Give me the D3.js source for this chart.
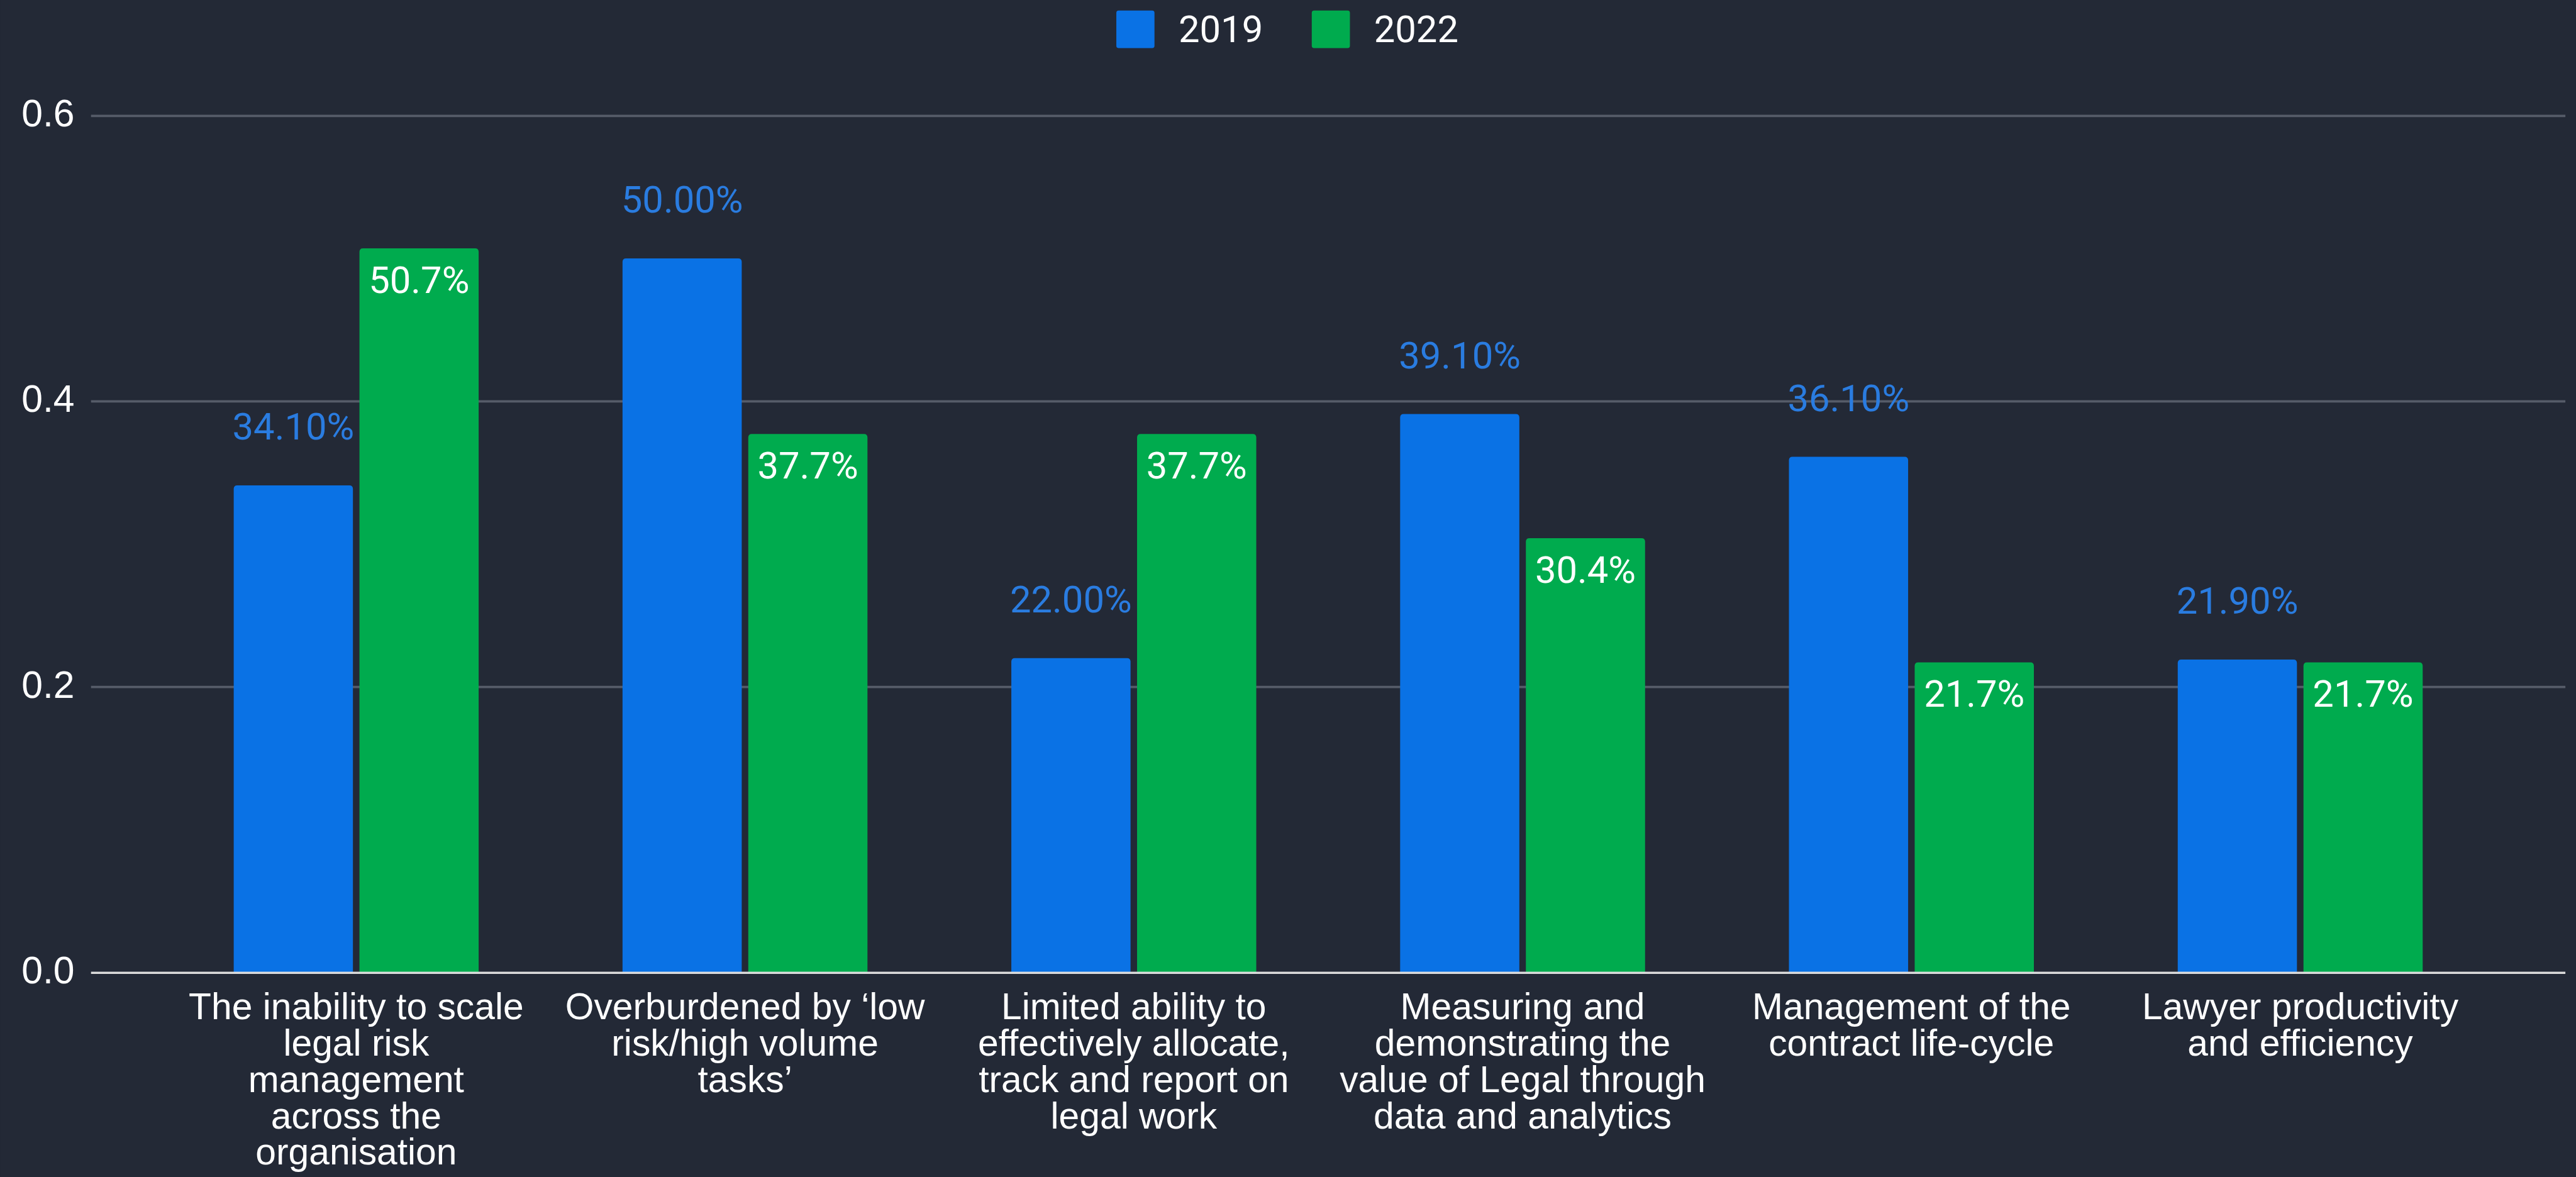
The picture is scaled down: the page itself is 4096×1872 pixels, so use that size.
<!DOCTYPE html>
<html>
<head>
<meta charset="utf-8">
<script src="https://cdn.jsdelivr.net/npm/d3@7/dist/d3.min.js"></script>
<style>
  html, body { margin: 0; padding: 0; background: #232936; overflow: hidden; }
  svg { display: block; }
</style>
</head>
<body>
<svg id="chart" width="4096" height="1872" viewBox="0 0 4389 2006" preserveAspectRatio="xMidYMid meet"></svg>
<script>
// Category labels, one entry per wrapped line
const categories = [
  ["The inability to scale", "legal risk", "management", "across the", "organisation"],
  ["Overburdened by \u2018low", "risk/high volume", "tasks\u2019"],
  ["Limited ability to", "effectively allocate,", "track and report on", "legal work"],
  ["Measuring and", "demonstrating the", "value of Legal through", "data and analytics"],
  ["Management of the", "contract life-cycle"],
  ["Lawyer productivity", "and efficiency"]
];
const seriesNames = ["2019", "2022"];
const values2019 = [0.341, 0.500, 0.220, 0.391, 0.361, 0.219];
const values2022 = [0.507, 0.377, 0.377, 0.304, 0.217, 0.217];
const yTicks = [0, 0.2, 0.4, 0.6];

const colors = { "2019": "#0a72e5", "2022": "#00ab4e" };
const labelBlue = "#2a7ce0";
const bg = "#232936";

const svg = d3.select("#chart");
svg.append("rect").attr("width", 4389).attr("height", 2006).attr("fill", bg);

const plot = { left: 155, right: 4371, top: 197, bottom: 1657 };

const keys = categories.map((_, i) => i);
const x0 = d3.scaleBand().domain(keys).range([plot.left, plot.right]).paddingInner(0.37).paddingOuter(0.367);
const x1 = d3.scaleBand().domain(seriesNames).range([0, x0.bandwidth()]).paddingInner(0.052);
const y = d3.scaleLinear().domain([0, 0.6]).range([plot.bottom, plot.top]);

// Horizontal gridlines and tick labels
const yAxis = d3.axisLeft(y)
  .tickValues(yTicks)
  .tickFormat(d3.format(".1f"))
  .tickSize(-(plot.right - plot.left))
  .tickPadding(28);
const gy = svg.append("g").attr("transform", `translate(${plot.left},0)`).call(yAxis);
gy.select(".domain").remove();
gy.selectAll(".tick line").attr("stroke", "#565c69").attr("stroke-width", 4)
  .filter(d => d === 0).remove();
gy.selectAll(".tick text")
  .attr("fill", "#ffffff")
  .attr("font-family", "'Liberation Sans', Arial, sans-serif")
  .attr("font-size", 65)
  .attr("dy", "0.28em");

// Bars with slightly rounded top corners
const r = 6;
function barPath(x, yTop, w, yBase) {
  const h = yBase - yTop;
  const rr = Math.min(r, h / 2, w / 2);
  return `M${x},${yBase}V${yTop + rr}Q${x},${yTop} ${x + rr},${yTop}H${x + w - rr}Q${x + w},${yTop} ${x + w},${yTop + rr}V${yBase}Z`;
}

const rows = keys.map(i => ({ i, vals: [
  { key: "2019", v: values2019[i] },
  { key: "2022", v: values2022[i] }
]}));

const groups = svg.append("g").selectAll("g").data(rows).join("g")
  .attr("transform", d => `translate(${x0(d.i)},0)`);

groups.selectAll("path").data(d => d.vals).join("path")
  .attr("d", d => barPath(x1(d.key), y(d.v), x1.bandwidth(), y(0)))
  .attr("fill", d => colors[d.key]);

// Value labels: 2019 above the bar, 2022 inside the top of the bar
groups.selectAll("text.val").data(d => d.vals).join("text")
  .attr("class", "val")
  .attr("x", d => x1(d.key) + x1.bandwidth() / 2)
  .attr("y", d => d.key === "2019" ? y(d.v) - 78 : y(d.v) + 76)
  .attr("text-anchor", "middle")
  .attr("font-family", "Roboto, sans-serif")
  .attr("font-size", 64)
  .attr("fill", d => d.key === "2019" ? labelBlue : "#ffffff")
  .text(d => d.key === "2019" ? d3.format(".2%")(d.v) : d3.format(".1%")(d.v));

// Baseline
svg.append("line")
  .attr("x1", plot.left).attr("x2", plot.right)
  .attr("y1", y(0) + 1).attr("y2", y(0) + 1)
  .attr("stroke", "#dcdcdc").attr("stroke-width", 4);

// Category axis with wrapped labels
const xAxis = d3.axisBottom(x0).tickSize(0).tickFormat("");
const gx = svg.append("g").attr("transform", `translate(0,${y(0)})`).call(xAxis);
gx.select(".domain").remove();
gx.selectAll(".tick").each(function(i) {
  const t = d3.select(this).append("text")
    .attr("text-anchor", "middle")
    .attr("fill", "#ffffff")
    .attr("font-family", "'Liberation Sans', Arial, sans-serif")
    .attr("font-size", 63);
  categories[i].forEach((line, k) => {
    t.append("tspan").attr("x", 0).attr("y", 80 + k * 62).text(line);
  });
});

// Legend
const legend = svg.append("g");
const legendX = [1902, 2235];
seriesNames.forEach((name, k) => {
  const g = legend.append("g").attr("transform", `translate(${legendX[k]},18)`);
  g.append("rect").attr("width", 65).attr("height", 64).attr("rx", 4).attr("fill", colors[name]);
  g.append("text").attr("x", 106).attr("y", 54)
    .attr("font-family", "Roboto, sans-serif").attr("font-size", 64)
    .attr("fill", "#ffffff").text(name);
});
</script>
</body>
</html>
